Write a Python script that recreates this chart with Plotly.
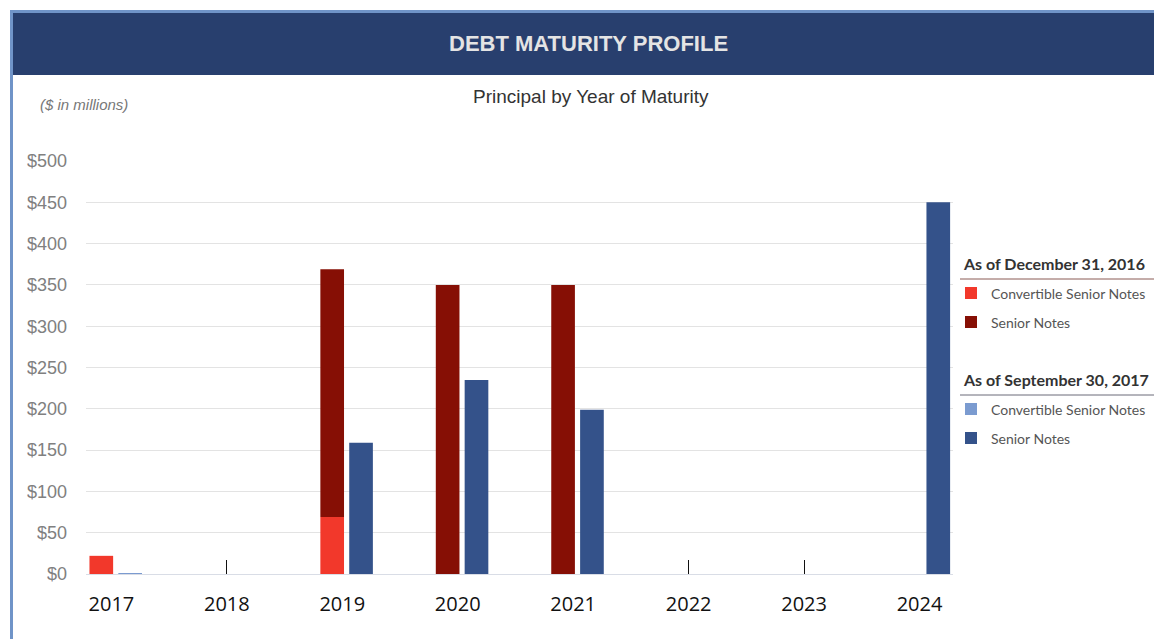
import plotly.graph_objects as go

# ---- data ----
years = [2017, 2018, 2019, 2020, 2021, 2022, 2023, 2024]
conv_2016 = [22, 0, 69, 0, 0, 0, 0, 0]        # Convertible Senior Notes, as of Dec 31, 2016
senior_2016 = [0, 0, 300, 350, 350, 0, 0, 0]  # Senior Notes, as of Dec 31, 2016
conv_2017 = [1, 0, 0, 0, 0, 0, 0, 0]          # Convertible Senior Notes, as of Sep 30, 2017
senior_2017 = [0, 0, 159, 235, 199, 0, 0, 450]  # Senior Notes, as of Sep 30, 2017
y_ticks = [0, 50, 100, 150, 200, 250, 300, 350, 400, 450, 500]
y_tick_text = ["$" + str(v) for v in y_ticks]
empty_year_ticks = [2018, 2022, 2023]

C_CONV16 = "#f2382b"
C_SEN16 = "#860f05"
C_CONV17 = "#7b9bd0"
C_SEN17 = "#34528a"

W, H = 1154, 639
L, R, T, B = 86, 953, 161, 574


def px(x):
    return (x - L) / (R - L)


def py(y):
    return (B - y) / (B - T)


fig = go.Figure()
bw = 0.205
off16 = -0.19
off17 = 0.06
fig.add_trace(go.Bar(x=years, y=conv_2016, width=bw, offset=off16, marker=dict(color=C_CONV16, line_width=0),
                     name="Convertible Senior Notes", showlegend=False))
fig.add_trace(go.Bar(x=years, y=senior_2016, width=bw, offset=off16, marker=dict(color=C_SEN16, line_width=0),
                     name="Senior Notes", showlegend=False, base=conv_2016))
fig.add_trace(go.Bar(x=years, y=conv_2017, width=bw, offset=off17, marker=dict(color=C_CONV17, line_width=0),
                     name="Convertible Senior Notes", showlegend=False))
fig.add_trace(go.Bar(x=years, y=senior_2017, width=bw, offset=off17, marker=dict(color=C_SEN17, line_width=0),
                     name="Senior Notes", showlegend=False, base=conv_2017))

shapes = []
annotations = []
# frame
shapes.append(dict(type="rect", xref="paper", yref="paper", x0=px(10), x1=px(13), y0=py(639), y1=py(10),
                   fillcolor="#7094c8", line_width=0, layer="above"))
shapes.append(dict(type="rect", xref="paper", yref="paper", x0=px(10), x1=px(1154), y0=py(13), y1=py(10),
                   fillcolor="#7094c8", line_width=0, layer="above"))
shapes.append(dict(type="rect", xref="paper", yref="paper", x0=px(13), x1=px(1154), y0=py(75), y1=py(13),
                   fillcolor="#283f6e", line_width=0, layer="above"))
annotations.append(dict(text="<b>DEBT MATURITY PROFILE</b>", xref="paper", yref="paper", x=px(588), y=py(44),
                        showarrow=False, font=dict(family="Liberation Sans, Arial", size=22, color="#e4e4e4"),
                        xanchor="center", yanchor="middle"))
annotations.append(dict(text="Principal by Year of Maturity", xref="paper", yref="paper", x=px(591), y=py(97),
                        showarrow=False, font=dict(family="Liberation Sans, Arial", size=19, color="#333333"),
                        xanchor="center", yanchor="middle"))
annotations.append(dict(text="<i>($ in millions)</i>", xref="paper", yref="paper", x=px(38), y=py(105),
                        showarrow=False, font=dict(family="Liberation Sans, Arial", size=15, color="#777777"),
                        xanchor="left", yanchor="middle"))

# custom legend
legend_groups = [
    ("As of December 31, 2016", 263, "#8a5a55", [(C_CONV16, "Convertible Senior Notes"), (C_SEN16, "Senior Notes")]),
    ("As of September 30, 2017", 379, "#6a6a78", [(C_CONV17, "Convertible Senior Notes"), (C_SEN17, "Senior Notes")]),
]
for header, hy, lc, items in legend_groups:
    annotations.append(dict(text="<b>" + header + "</b>", xref="paper", yref="paper", x=px(961), y=py(hy),
                            showarrow=False, font=dict(family="Lato, Open Sans", size=16, color="#333333"),
                            xanchor="left", yanchor="middle"))
    shapes.append(dict(type="line", xref="paper", yref="paper", x0=px(960), x1=px(1154), y0=py(hy + 16),
                       y1=py(hy + 16), line=dict(color=lc, width=1)))
    for i, (col, lab) in enumerate(items):
        iy = hy + 30 + i * 29
        shapes.append(dict(type="rect", xref="paper", yref="paper", x0=px(965), x1=px(977), y0=py(iy + 6),
                           y1=py(iy - 6), fillcolor=col, line_width=0))
        annotations.append(dict(text=lab, xref="paper", yref="paper", x=px(989), y=py(iy),
                                showarrow=False, font=dict(family="Lato, Open Sans", size=14, color="#555555"),
                                xanchor="left", yanchor="middle"))

fig.update_layout(
    width=W, height=H,
    margin=dict(l=L, r=W - R, t=T, b=H - B),
    paper_bgcolor="white", plot_bgcolor="white",
    barmode="overlay",
    shapes=shapes, annotations=annotations,
    xaxis=dict(range=[2016.78, 2024.29], tickmode="array", tickvals=years, ticktext=[str(y) for y in years],
               ticks="", showgrid=False, zeroline=False, showline=True, linecolor="#d9dde6", linewidth=1,
               tickfont=dict(family="Open Sans, Liberation Sans", size=20, color="#111111"),
               ticklabelstandoff=12,
               minor=dict(tickmode="array", tickvals=empty_year_ticks, ticks="inside", ticklen=14,
                          tickcolor="#111111", tickwidth=1, showgrid=False),
               fixedrange=True),
    yaxis=dict(range=[0, 500], tickmode="array", tickvals=y_ticks, ticktext=y_tick_text,
               showgrid=True, gridcolor="#e3e3e3", gridwidth=1, zeroline=False, showline=False,
               tickfont=dict(family="Liberation Sans, Arial", size=18, color="#808080"), ticks="",
               ticklabelstandoff=18, fixedrange=True),
    showlegend=False,
)
fig.write_html("out.html", config={"displayModeBar": False},
               post_script="document.body.style.margin='0';")
